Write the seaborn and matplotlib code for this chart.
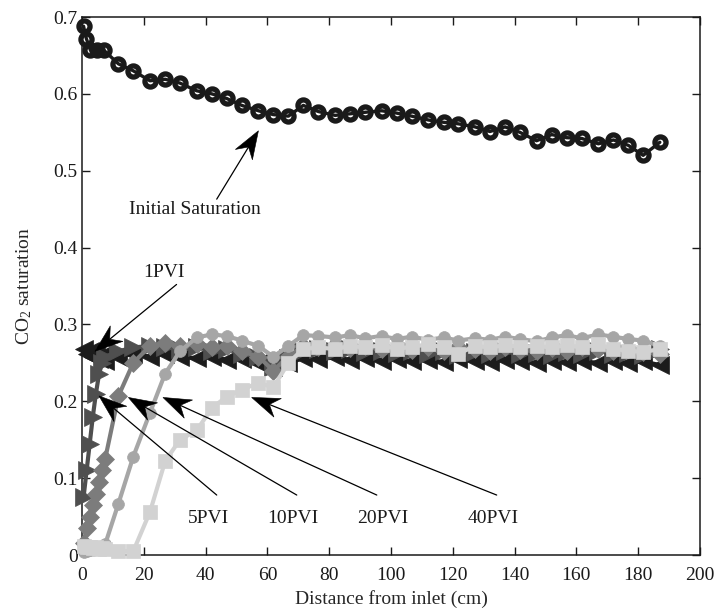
import numpy as np
import matplotlib
matplotlib.use("Agg")
import matplotlib.pyplot as plt
from matplotlib.patches import Polygon
import seaborn as sns

# ---------------------------------------------------------------------------
# Data: CO2 saturation profiles along the core
# ---------------------------------------------------------------------------
distance_initial = [0.5, 1.4, 2.7, 4.8, 7.0, 11.8, 16.6, 22.0, 26.9, 31.7,
                    37.1, 42.0, 46.8, 51.7, 57.1, 61.9, 66.8, 71.6, 76.5, 81.9,
                    86.7, 91.6, 97.0, 101.8, 106.7, 112.1, 117.0, 121.8, 127.2,
                    132.0, 136.9, 141.7, 147.1, 152.0, 156.8, 161.7, 167.1,
                    172.0, 176.8, 181.6, 187.0]
sat_initial = [0.688, 0.672, 0.657, 0.657, 0.657, 0.639, 0.630, 0.617, 0.619,
               0.614, 0.604, 0.600, 0.594, 0.585, 0.578, 0.573, 0.571, 0.585,
               0.577, 0.572, 0.574, 0.576, 0.578, 0.575, 0.571, 0.566, 0.563,
               0.561, 0.557, 0.551, 0.557, 0.550, 0.539, 0.547, 0.543, 0.542,
               0.535, 0.540, 0.533, 0.520, 0.537]

distance_flood = [0.5, 1.5, 2.5, 3.5, 4.5, 5.5, 6.5, 7.5, 11.8, 16.6, 22.0,
                  26.9, 31.7, 37.1, 42.0, 46.8, 51.7, 57.1, 61.9, 66.8, 71.6,
                  76.5, 81.9, 86.7, 91.6, 97.0, 101.8, 106.7, 112.1, 117.0,
                  121.8, 127.2, 132.0, 136.9, 141.7, 147.1, 152.0, 156.8,
                  161.7, 167.1, 172.0, 176.8, 181.6, 187.0]

sat_1pvi = [0.268, 0.262, 0.266, 0.258, 0.263, 0.255, 0.260, 0.252, 0.258,
            0.262, 0.258, 0.262, 0.258, 0.256, 0.258, 0.254, 0.255, 0.250,
            0.244, 0.250, 0.256, 0.255, 0.257, 0.254, 0.256, 0.253, 0.255,
            0.252, 0.254, 0.251, 0.255, 0.252, 0.251, 0.254, 0.252, 0.250,
            0.253, 0.251, 0.252, 0.250, 0.252, 0.250, 0.252, 0.247]
sat_5pvi = [0.075, 0.110, 0.145, 0.180, 0.210, 0.235, 0.250, 0.258, 0.265,
            0.270, 0.272, 0.270, 0.268, 0.270, 0.266, 0.268, 0.262, 0.258,
            0.245, 0.256, 0.266, 0.268, 0.265, 0.268, 0.264, 0.266, 0.263,
            0.265, 0.262, 0.266, 0.260, 0.264, 0.262, 0.265, 0.261, 0.263,
            0.260, 0.264, 0.262, 0.266, 0.261, 0.263, 0.260, 0.268]
sat_10pvi = [0.015, 0.035, 0.050, 0.065, 0.080, 0.095, 0.110, 0.125, 0.207,
             0.250, 0.272, 0.276, 0.272, 0.275, 0.270, 0.272, 0.265, 0.258,
             0.240, 0.258, 0.272, 0.270, 0.273, 0.269, 0.272, 0.268, 0.271,
             0.267, 0.270, 0.266, 0.270, 0.268, 0.266, 0.270, 0.267, 0.265,
             0.269, 0.266, 0.270, 0.268, 0.265, 0.268, 0.264, 0.262]
sat_20pvi = [0.004, 0.005, 0.006, 0.007, 0.008, 0.009, 0.011, 0.014, 0.067,
             0.128, 0.185, 0.236, 0.265, 0.283, 0.287, 0.285, 0.279, 0.272,
             0.258, 0.272, 0.286, 0.285, 0.283, 0.286, 0.282, 0.285, 0.281,
             0.284, 0.280, 0.283, 0.279, 0.282, 0.280, 0.284, 0.281, 0.278,
             0.283, 0.286, 0.282, 0.287, 0.284, 0.281, 0.279, 0.272]
sat_40pvi = [0.012, 0.010, 0.011, 0.009, 0.010, 0.008, 0.009, 0.008, 0.005,
             0.005, 0.056, 0.122, 0.150, 0.162, 0.191, 0.206, 0.215, 0.224,
             0.218, 0.250, 0.268, 0.270, 0.268, 0.272, 0.270, 0.273, 0.268,
             0.271, 0.274, 0.270, 0.262, 0.272, 0.270, 0.273, 0.271, 0.272,
             0.270, 0.273, 0.270, 0.274, 0.268, 0.266, 0.264, 0.268]

x_ticks = [0, 20, 40, 60, 80, 100, 120, 140, 160, 180, 200]
y_ticks = [0, 0.1, 0.2, 0.3, 0.4, 0.5, 0.6, 0.7]
y_tick_labels = ["0", "0.1", "0.2", "0.3", "0.4", "0.5", "0.6", "0.7"]

# ---------------------------------------------------------------------------
# Style
# ---------------------------------------------------------------------------
sns.set_theme(style="ticks")
plt.rcParams["font.family"] = ["Liberation Serif", "DejaVu Serif"]
plt.rcParams["mathtext.fontset"] = "custom"
plt.rcParams["mathtext.rm"] = "Liberation Serif"
plt.rcParams["mathtext.it"] = "Liberation Serif:italic"
FS = 14

fig = plt.figure(figsize=(7.15, 6.08), dpi=100)
ax = fig.add_axes([82 / 715, 1 - 555 / 608, (700 - 82) / 715, (555 - 17) / 608])

# Initial saturation: open black circles
sns.lineplot(x=distance_initial, y=sat_initial, ax=ax, color="#1a1a1a",
             linewidth=2.4, marker="o", markersize=8.0,
             markerfacecolor="none", markeredgecolor="#1a1a1a",
             markeredgewidth=3.8, estimator=None, sort=False, legend=False,
             clip_on=False, zorder=3)

series = [
    (sat_1pvi, "<", "#1c1c1c", 13.0),
    (sat_5pvi, ">", "#4f4f4f", 13.0),
    (sat_10pvi, "D", "#7c7c7c", 9.0),
    (sat_20pvi, "o", "#a6a6a6", 8.5),
    (sat_40pvi, "s", "#d2d2d2", 9.5),
]
for i, (vals, mk, col, ms) in enumerate(series):
    sns.lineplot(x=distance_flood, y=vals, ax=ax, color=col, linewidth=3.0,
                 marker=mk, markersize=ms, markerfacecolor=col,
                 markeredgecolor=col, markeredgewidth=0.5, estimator=None,
                 sort=False, legend=False, clip_on=False, zorder=3 + i)

ax.set_xlim(0, 200)
ax.set_ylim(0, 0.7)
ax.set_xticks(x_ticks)
ax.set_xticklabels([str(v) for v in x_ticks])
ax.set_yticks(y_ticks)
ax.set_yticklabels(y_tick_labels)
ax.tick_params(direction="in", length=6, width=1.0, labelsize=FS,
               top=True, right=True, colors="#1a1a1a")
ax.tick_params(axis="x", pad=9)
ax.tick_params(axis="y", pad=3)
for sp in ax.spines.values():
    sp.set_visible(True)
    sp.set_linewidth(1.1)
    sp.set_color("#1a1a1a")

ax.set_xlabel("Distance from inlet (cm)", fontsize=FS, labelpad=4)
ax.set_ylabel("CO$_2$ saturation", fontsize=FS, labelpad=14)


def draw_arrow(tail, tip, head_len=28, head_half=10, notch=0.68):
    """Line with a filled, notched arrowhead (sizes in pixels)."""
    to_px = ax.transData.transform
    p0 = to_px(tail)
    p1 = to_px(tip)
    d = p1 - p0
    u = d / np.hypot(*d)
    n = np.array([-u[1], u[0]])
    back = p1 - u * head_len
    left = back + n * head_half
    right = back - n * head_half
    nk = p1 - u * head_len * notch
    inv = ax.transData.inverted()
    verts = inv.transform(np.array([p1, left, nk, right]))
    ax.add_patch(Polygon(verts, closed=True, facecolor="black",
                         edgecolor="black", lw=0.4, zorder=20, clip_on=False))
    seg = inv.transform(np.array([p0, nk]))
    ax.plot(seg[:, 0], seg[:, 1], color="black", lw=0.9, zorder=20,
            clip_on=False)


annotations = [
    ("Initial Saturation", (36.6, 0.449), (43.6, 0.463), (57.1, 0.552)),
    ("1PVI", (26.5, 0.367), (30.6, 0.352), (4.2, 0.265)),
    ("5PVI", (41.1, 0.048), (43.6, 0.078), (5.5, 0.207)),
    ("10PVI", (68.1, 0.048), (69.5, 0.078), (15.0, 0.205)),
    ("20PVI", (97.4, 0.048), (95.4, 0.078), (26.2, 0.205)),
    ("40PVI", (133.0, 0.048), (134.2, 0.078), (54.9, 0.205)),
]
for label, txt_xy, tail, tip in annotations:
    ax.text(txt_xy[0], txt_xy[1], label, fontsize=FS, ha="center",
            va="center", color="#1a1a1a", zorder=21)
    draw_arrow(tail, tip)

fig.savefig("out.png", dpi=100)
